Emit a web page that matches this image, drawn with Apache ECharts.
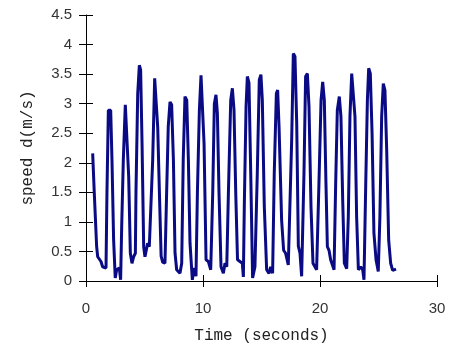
<!DOCTYPE html>
<html>
<head>
<meta charset="utf-8">
<script src="https://cdn.jsdelivr.net/npm/echarts@6/dist/echarts.min.js"></script>
<style>
  html, body { margin: 0; padding: 0; background: #fff; }
  #chart { width: 452px; height: 352px; }
</style>
</head>
<body>
<div id="chart"></div>
<script>
// time (s) and speed (m/s)
const timeValues = [
  0.57, 0.71, 0.91, 1.0, 1.28, 1.42, 1.71, 1.79, 1.91, 2.11, 2.22, 2.36, 2.5, 2.62, 2.85, 2.96,
  3.05, 3.19, 3.36, 3.48, 3.65, 3.79, 3.93, 4.07, 4.22, 4.27, 4.42, 4.56, 4.67, 4.79, 4.93, 5.04,
  5.27, 5.41, 5.56, 5.7, 5.87, 6.01, 6.13, 6.3, 6.42, 6.55, 6.75, 6.89, 7.03, 7.18, 7.32, 7.47,
  7.61, 7.75, 8.03, 8.18, 8.31, 8.46, 8.61, 8.75, 8.89, 9.09, 9.23, 9.4, 9.52, 9.69, 9.83, 9.94,
  10.09, 10.26, 10.46, 10.66, 10.83, 10.97, 11.11, 11.23, 11.37, 11.54, 11.74, 11.88, 12.03, 12.17, 12.37, 12.51,
  12.65, 12.8, 12.95, 13.16, 13.36, 13.45, 13.53, 13.68, 13.79, 13.93, 14.08, 14.24, 14.44, 14.64, 14.81, 14.95,
  15.07, 15.24, 15.44, 15.64, 15.78, 15.95, 16.09, 16.27, 16.38, 16.5, 16.72, 16.89, 17.06, 17.29, 17.44, 17.58,
  17.72, 17.86, 18.01, 18.15, 18.29, 18.43, 18.52, 18.63, 18.77, 18.92, 19.06, 19.23, 19.4, 19.71, 19.91, 20.09,
  20.23, 20.37, 20.51, 20.63, 20.77, 20.91, 21.06, 21.2, 21.34, 21.48, 21.65, 21.79, 21.94, 22.08, 22.28, 22.42,
  22.56, 22.71, 22.85, 22.99, 23.13, 23.28, 23.48, 23.65, 23.76, 23.91, 24.05, 24.16, 24.3, 24.45, 24.61, 24.79,
  24.98, 25.12, 25.27, 25.41, 25.55, 25.7, 25.87, 26.04, 26.21, 26.5
];
const speedValues = [
  2.16, 1.48, 0.58, 0.41, 0.33, 0.24, 0.22, 1.48, 2.89, 2.89, 2.05, 0.7, 0.05, 0.19, 0.22, 0.02,
  0.92, 2.05, 2.98, 2.95, 1.76, 0.47, 0.3, 0.41, 0.47, 1.48, 3.17, 3.65, 3.57, 2.33, 0.58, 0.41,
  0.64, 0.58, 0.55, 2.05, 3.43, 3.4, 2.6, 1.3, 0.42, 0.32, 0.3, 1.48, 2.61, 3.03, 2.98, 2.05,
  0.47, 0.19, 0.13, 0.3, 2.05, 3.12, 3.06, 2.05, 0.64, 0.02, 0.22, 0.08, 1.48, 2.89, 3.48, 3.45,
  2.33, 0.36, 0.33, 0.19, 1.48, 3.0, 3.15, 2.83, 1.48, 0.24, 0.13, 0.3, 0.24, 1.48, 3.06, 3.26,
  2.89, 1.48, 0.36, 0.33, 0.3, 0.07, 1.26, 2.95, 3.46, 3.35, 1.82, 0.05, 0.24, 1.82, 3.4, 3.49,
  3.06, 1.26, 0.19, 0.13, 0.24, 0.13, 1.82, 3.17, 3.23, 2.61, 1.03, 0.52, 0.47, 0.27, 0.3, 2.39,
  3.85, 3.8, 2.67, 0.59, 0.47, 0.08, 0.05, 1.82, 3.46, 3.51, 2.95, 1.26, 0.3, 0.19, 1.65, 3.06,
  3.37, 3.06, 1.65, 0.58, 0.52, 0.36, 0.38, 0.19, 1.65, 2.89, 3.12, 2.78, 1.37, 0.3, 0.21, 1.09,
  2.78, 3.51, 3.49, 2.78, 1.09, 0.19, 0.24, 0.19, 0.02, 1.65, 3.06, 3.6, 3.51, 2.5, 0.81, 0.36,
  0.16, 1.09, 2.78, 3.34, 3.23, 2.22, 0.69, 0.3, 0.18, 0.2
];
const xTicks = { min: 0, max: 30, step: 10 };
const yTicks = { min: 0, max: 4.5, step: 0.5 };

let points = timeValues.map((t, i) => [t, speedValues[i]]);
let myChart = echarts.init(document.getElementById('chart'));

const tickFont = { color: '#333', fontSize: 15, fontFamily: 'Liberation Sans' };
const nameFont = { color: '#222', fontSize: 16, fontFamily: 'Liberation Mono' };

myChart.setOption({
  animation: false,
  grid: { left: 86, right: 15, top: 15, bottom: 71 },
  xAxis: [
    {
      type: 'value',
      min: xTicks.min, max: xTicks.max, interval: xTicks.step,
      name: 'Time (seconds)',
      nameLocation: 'middle',
      nameGap: 47,
      nameTextStyle: nameFont,
      axisLine: { onZero: false, lineStyle: { color: '#000', width: 1 } },
      axisTick: { length: 6, lineStyle: { color: '#000' } },
      axisLabel: Object.assign({ margin: 20 }, tickFont),
      splitLine: { show: false }
    },
    {
      // inner half of the cross ticks
      type: 'value', position: 'bottom',
      min: xTicks.min, max: xTicks.max, interval: xTicks.step,
      axisLine: { show: false },
      axisTick: { inside: true, length: 6, lineStyle: { color: '#000' } },
      axisLabel: { show: false },
      splitLine: { show: false }
    }
  ],
  yAxis: [
    {
      type: 'value',
      min: yTicks.min, max: yTicks.max, interval: yTicks.step,
      name: 'speed d(m/s)',
      nameLocation: 'middle',
      nameGap: 50,
      nameTextStyle: nameFont,
      axisLine: { show: true, onZero: false, lineStyle: { color: '#000', width: 1 } },
      axisTick: { show: true, length: 7, lineStyle: { color: '#000' } },
      axisLabel: Object.assign({ margin: 14 }, tickFont),
      splitLine: { show: false }
    },
    {
      type: 'value', position: 'left',
      min: yTicks.min, max: yTicks.max, interval: yTicks.step,
      axisLine: { show: false },
      axisTick: { show: true, inside: true, length: 7, lineStyle: { color: '#000' } },
      axisLabel: { show: false },
      splitLine: { show: false }
    }
  ],
  series: [
    {
      type: 'line',
      data: points,
      showSymbol: false,
      lineStyle: { color: '#0a0a85', width: 3 },
      clip: false
    }
  ]
});
</script>
</body>
</html>
